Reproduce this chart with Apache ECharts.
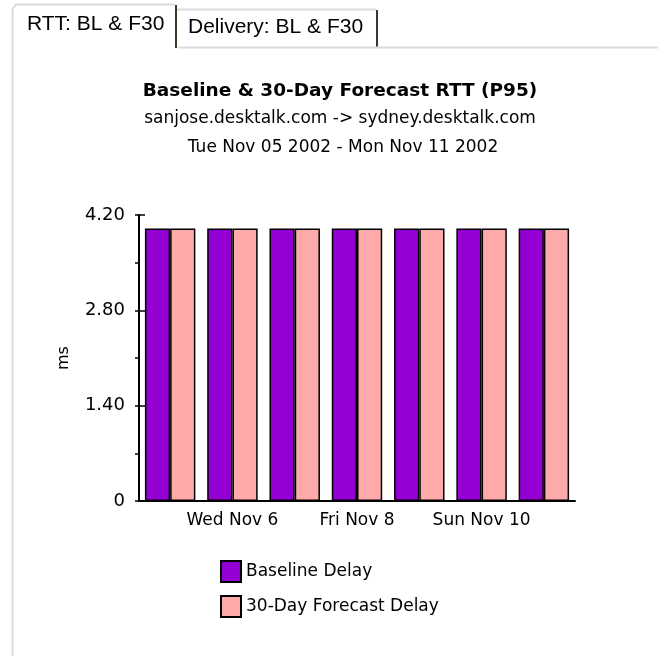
<!DOCTYPE html>
<html>
<head>
<meta charset="utf-8">
<title>Baseline & 30-Day Forecast RTT (P95)</title>
<script src="https://cdn.jsdelivr.net/npm/echarts@6/dist/echarts.min.js"></script>
<style>
  html, body { margin: 0; padding: 0; background: #fff; }
  #chart { width: 658px; height: 656px; }
</style>
</head>
<body>
<div id="chart"></div>
<script>
// chart data
const days = ["Tue Nov 5", "Wed Nov 6", "Thu Nov 7", "Fri Nov 8", "Sat Nov 9", "Sun Nov 10", "Mon Nov 11"];
const baselineDelay = [4.0, 4.0, 4.0, 4.0, 4.0, 4.0, 4.0];
const forecastDelay = [4.0, 4.0, 4.0, 4.0, 4.0, 4.0, 4.0];
const seriesNames = ["Baseline Delay", "30-Day Forecast Delay"];
const tabNames = ["RTT: BL & F30", "Delivery: BL & F30"];

const font = "DejaVu Sans";
const tabBorder = "#dcdcdc";
const tabEdge = "#3a3828";

let chart = echarts.init(document.getElementById("chart"));

let yAxisBase = {
  type: "value",
  min: 0,
  max: 4.2,
  interval: 1.4,
  position: "left",
  splitLine: { show: false }
};

let option = {
  animation: false,
  backgroundColor: "#fff",
  title: [
    {
      text: "Baseline & 30-Day Forecast RTT (P95)",
      left: 335, top: 77, textAlign: "center",
      textStyle: { fontFamily: font, fontSize: 18.5, fontWeight: "bold", color: "#000" }
    },
    {
      text: "sanjose.desktalk.com -> sydney.desktalk.com",
      left: 335, top: 105, textAlign: "center",
      textStyle: { fontFamily: font, fontSize: 17, fontWeight: "normal", color: "#000" }
    },
    {
      text: "Tue Nov 05 2002 - Mon Nov 11 2002",
      left: 338, top: 134, textAlign: "center",
      textStyle: { fontFamily: font, fontSize: 17, fontWeight: "normal", color: "#000" }
    }
  ],
  grid: { left: 139, right: 83, top: 215, bottom: 155 },
  legend: {
    data: seriesNames,
    orient: "vertical",
    left: 220,
    top: 560,
    padding: 0,
    itemWidth: 20,
    itemHeight: 21,
    itemGap: 12,
    icon: "rect",
    selectedMode: false,
    itemStyle: { borderColor: "#000", borderWidth: 2 },
    textStyle: { fontFamily: font, fontSize: 17, color: "#000" }
  },
  xAxis: {
    type: "category",
    data: days,
    boundaryGap: true,
    axisLine: { lineStyle: { color: "#000", width: 2 } },
    axisTick: {
      alignWithLabel: true,
      length: 5,
      interval: function (i) { return i % 2 === 1; },
      lineStyle: { color: "#000", width: 1.5 }
    },
    axisLabel: {
      interval: function (i) { return i % 2 === 1; },
      margin: 11,
      fontFamily: font,
      fontSize: 17,
      color: "#000"
    }
  },
  yAxis: [
    Object.assign({}, yAxisBase, {
      name: "ms",
      nameLocation: "middle",
      nameGap: 67,
      nameRotate: 90,
      nameTextStyle: { fontFamily: font, fontSize: 16, color: "#000" },
      axisLine: { show: true, lineStyle: { color: "#000", width: 2 } },
      axisTick: { show: true, length: 4, lineStyle: { color: "#000", width: 1.5 } },
      minorTick: { show: true, splitNumber: 2, length: 4, lineStyle: { color: "#000", width: 1.5 } },
      axisLabel: {
        margin: 14,
        fontFamily: font,
        fontSize: 18,
        color: "#000",
        formatter: function (v) { return v === 0 ? "0" : v.toFixed(2); }
      }
    }),
    // inner half of the major ticks, so they cross the axis line
    Object.assign({}, yAxisBase, {
      axisLine: { show: false },
      axisLabel: { show: false },
      axisTick: { show: true, inside: true, length: 6, lineStyle: { color: "#000", width: 1.5 } }
    })
  ],
  series: [
    {
      name: seriesNames[0],
      type: "bar",
      data: baselineDelay,
      barGap: "0%",
      barCategoryGap: "19%",
      itemStyle: { color: "#9400d3", borderColor: "#000", borderWidth: 1.5 }
    },
    {
      name: seriesNames[1],
      type: "bar",
      data: forecastDelay,
      barGap: "0%",
      barCategoryGap: "19%",
      itemStyle: { color: "#ffaaaa", borderColor: "#000", borderWidth: 1.5 }
    }
  ],
  graphic: [
    // panel left edge and first (active) tab outline
    {
      type: "polyline",
      shape: { points: [[12.5, 656], [12.5, 9], [16, 4.5], [175, 4.5]] },
      style: { stroke: tabBorder, lineWidth: 2, fill: null }
    },
    {
      type: "line",
      shape: { x1: 176, y1: 5, x2: 176, y2: 48 },
      style: { stroke: tabEdge, lineWidth: 2 }
    },
    {
      type: "text",
      left: 27, top: 14,
      style: { text: tabNames[0], font: "21px 'Liberation Sans', Arial", fill: "#000" }
    },
    // second tab
    {
      type: "polyline",
      shape: { points: [[177, 9.5], [376, 9.5]] },
      style: { stroke: tabBorder, lineWidth: 2, fill: null }
    },
    {
      type: "line",
      shape: { x1: 377, y1: 10, x2: 377, y2: 47 },
      style: { stroke: tabEdge, lineWidth: 2 }
    },
    {
      type: "text",
      left: 188, top: 17,
      style: { text: tabNames[1], font: "21px 'Liberation Sans', Arial", fill: "#000" }
    },
    {
      type: "line",
      shape: { x1: 178, y1: 47.5, x2: 658, y2: 47.5 },
      style: { stroke: tabBorder, lineWidth: 2 }
    }
  ]
};

chart.setOption(option);
</script>
</body>
</html>
